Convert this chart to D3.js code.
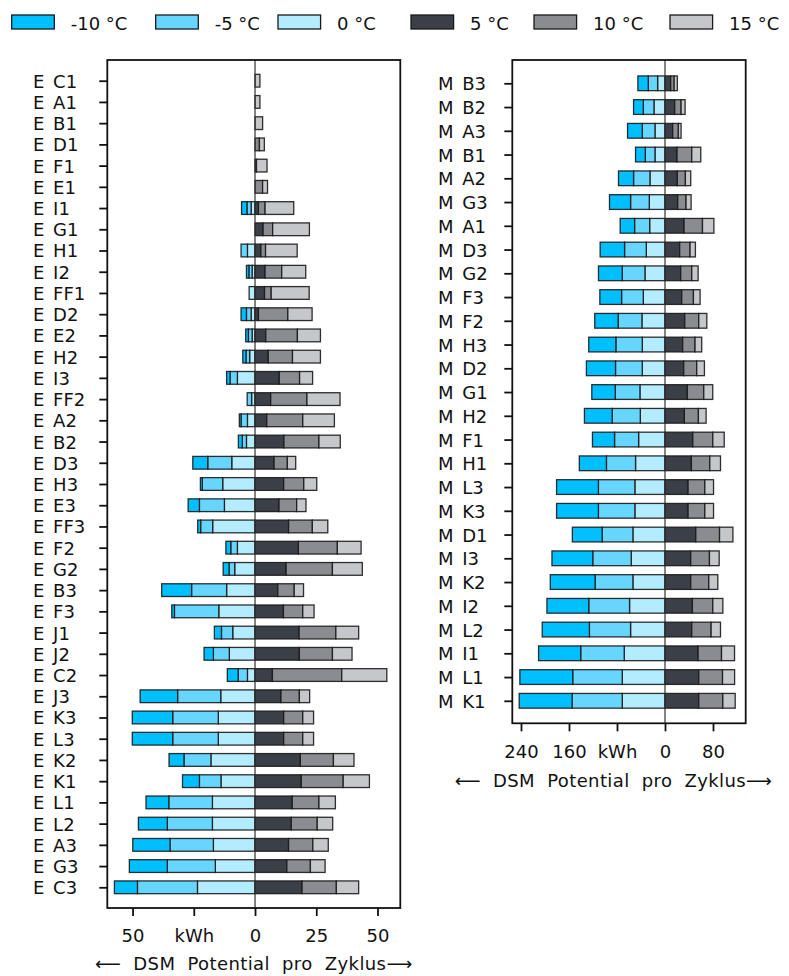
<!DOCTYPE html>
<html>
<head>
<meta charset="utf-8">
<script src="https://cdn.jsdelivr.net/npm/d3@7"></script>
<style>
  html, body { margin: 0; padding: 0; background: #fff; }
  svg text { font-family: "DejaVu Sans", sans-serif; fill: #111; }
</style>
</head>
<body>
<svg id="chart" width="789" height="976"></svg>
<script>
// Temperature series (legend order)
const seriesNames = ["-10 °C", "-5 °C", "0 °C", "5 °C", "10 °C", "15 °C"];

// Panel E: DSM potential per cycle in kWh (negative side = -10/-5/0 °C)
const eCategories = ["E C1","E A1","E B1","E D1","E F1","E E1","E I1","E G1","E H1","E I2",
  "E FF1","E D2","E E2","E H2","E I3","E FF2","E A2","E B2","E D3","E H3","E E3","E FF3",
  "E F2","E G2","E B3","E F3","E J1","E J2","E C2","E J3","E K3","E L3","E K2","E K1",
  "E L1","E L2","E A3","E G3","E C3"];
const eMinus10 = [0,0,0,0,0,0,-2.2,0,0,-1.0,0,-2.2,-1.1,-1.3,-1.4,0,-0.7,-1.6,-6.1,-0.8,-4.6,-1.2,
  -2.0,-2.4,-12.2,-1.1,-2.9,-3.8,-4.4,-15.3,-16.5,-16.5,-6.1,-6.9,-9.3,-11.8,-15.2,-15.5,-9.4];
const eMinus5 = [0,0,0,0,0,0,-1.7,0,-2.6,-1.3,0,-1.9,-1.5,-1.5,-3.0,-1.8,-2.6,-1.7,-9.8,-8.3,-10.2,-4.9,
  -2.7,-2.3,-14.3,-18.1,-4.6,-6.5,-3.8,-17.6,-18.6,-18.6,-11.0,-8.8,-17.8,-18.4,-17.7,-19.6,-24.5];
const eZero = [0,0,0,0,0,0,-1.6,0,-3.1,-1.2,-2.4,-1.6,-1.2,-2.2,-7.2,-1.4,-3.1,-3.5,-9.5,-13.2,-12.5,-17.3,
  -7.2,-8.3,-11.6,-14.8,-9.1,-10.5,-3.1,-14.0,-15.0,-15.0,-18.0,-13.9,-17.4,-17.4,-17.0,-16.2,-23.5];
const ePlus5 = [0,0,0,0,0.6,0,1.4,3.3,2.4,4.1,3.9,1.4,4.4,5.4,9.9,6.4,4.8,11.8,7.8,11.7,9.8,13.7,
  17.7,12.7,9.3,11.6,18.0,18.1,7.1,10.6,11.7,11.7,18.5,18.9,15.2,14.8,13.7,13.0,19.2];
const ePlus10 = [0,0,0,1.8,0,3.1,2.7,3.9,1.9,6.8,2.7,12.0,12.9,9.9,8.3,14.8,14.7,14.3,5.4,8.2,7.2,9.7,
  15.9,18.9,6.7,7.9,15.0,13.5,28.3,7.5,7.8,7.8,13.5,17.1,10.9,10.6,9.9,9.6,14.0];
const ePlus15 = [2.0,2.0,3.1,2.0,4.3,2.0,11.7,15.0,12.9,9.8,15.5,9.9,9.4,11.4,5.3,13.5,12.9,8.7,3.4,5.3,3.8,6.3,
  9.7,12.2,3.8,4.6,9.3,8.0,18.4,4.2,4.4,4.4,8.4,10.7,6.7,6.3,6.3,6.0,9.1];
const eTickValues = [-50, -25, 0, 25, 50];
const eTickLabels = ["50", "kWh", "0", "25", "50"];

// Panel M
const mCategories = ["M B3","M B2","M A3","M B1","M A2","M G3","M A1","M D3","M G2","M F3",
  "M F2","M H3","M D2","M G1","M H2","M F1","M H1","M L3","M K3","M D1","M I3","M K2",
  "M I2","M L2","M I1","M L1","M K1"];
const mMinus10 = [-17.3,-16.2,-24.5,-16.2,-25.1,-35.1,-24.0,-40.7,-39.6,-36.2,-39.0,-45.2,-48.5,-39.0,
  -46.3,-36.8,-45.2,-69.7,-69.7,-49.6,-68.0,-74.7,-69.7,-78.6,-70.2,-88.1,-88.1];
const mMinus5 = [-15.6,-17.8,-21.2,-16.2,-27.3,-31.2,-25.1,-36.2,-37.9,-36.2,-39.6,-44.0,-44.6,-41.2,
  -46.8,-40.1,-48.5,-60.8,-60.8,-51.3,-64.1,-63.0,-68.0,-68.6,-72.5,-82.5,-83.6];
const mZero = [-12.3,-18.4,-16.7,-16.7,-25.1,-26.2,-25.6,-31.2,-33.4,-36.2,-38.5,-37.9,-37.9,-41.8,
  -41.2,-44.0,-49.1,-50.2,-50.2,-53.5,-56.3,-53.5,-59.1,-57.4,-68.0,-71.3,-71.3];
const mPlus5 = [9.5,16.2,12.8,20.1,20.6,21.2,31.8,24.5,26.2,27.9,32.9,29.5,31.2,37.3,
  32.3,46.3,44.0,38.5,38.5,51.3,42.9,42.9,45.7,44.6,55.2,56.3,56.3];
const mPlus10 = [5.8,10.6,9.5,24.5,13.4,13.9,30.7,17.3,18.4,19.5,23.4,20.6,21.7,27.3,
  23.4,33.4,30.7,27.9,27.9,39.6,31.2,30.1,34.0,32.3,39.0,39.6,40.1];
const mPlus15 = [5.3,6.7,4.5,15.0,8.9,8.4,19.0,8.9,10.6,11.1,13.4,11.1,12.8,15.0,
  12.8,19.0,17.8,14.5,14.5,22.3,16.2,15.0,16.7,15.6,21.7,20.1,20.6];
const mTickValues = [-240, -160, -80, 0, 80];
const mTickLabels = ["240", "160", "kWh", "0", "80"];

// Styling
const palette = {
  "-10 °C": "#00bfff",
  "-5 °C": "#66d6ff",
  "0 °C": "#b3ebff",
  "5 °C": "#3b3f47",
  "10 °C": "#8a8c91",
  "15 °C": "#c6c7cb"
};
const FONT = 18;
const svg = d3.select("#chart");

// Stacking order: segments grow outward from zero (0 °C / 5 °C are innermost)
const stackKeys = ["0 °C", "-5 °C", "-10 °C", "5 °C", "10 °C", "15 °C"];

function buildRows(categories, cols) {
  return categories.map((c, i) => {
    const row = { category: c };
    seriesNames.forEach((s, k) => { row[s] = cols[k][i]; });
    return row;
  });
}

function drawPanel(opt) {
  const { rows, categories, frame, domain, tickValues, tickLabels, labelX, barFrac, titleShift, titleGap, tickGap } = opt;
  const g = svg.append("g");

  const x = d3.scaleLinear().domain(domain).range([frame.x0, frame.x1]);
  const y = d3.scalePoint().domain(categories).range([frame.y0 + opt.padTop, frame.y1 - opt.padBottom]);
  const barH = y.step() * barFrac;

  const stacked = d3.stack().keys(stackKeys).offset(d3.stackOffsetDiverging)(rows);

  g.selectAll("g.series")
    .data(stacked)
    .join("g")
    .attr("class", "series")
    .attr("fill", d => palette[d.key])
    .selectAll("rect")
    .data(d => d.filter(s => s[1] !== s[0]))
    .join("rect")
    .attr("x", d => x(Math.min(d[0], d[1])))
    .attr("width", d => Math.abs(x(d[1]) - x(d[0])))
    .attr("y", d => y(d.data.category) - barH / 2)
    .attr("height", barH)
    .attr("stroke", "#1a1a1a")
    .attr("stroke-opacity", 0.9)
    .attr("stroke-width", 1.3);

  // zero line
  g.append("line")
    .attr("x1", x(0)).attr("x2", x(0))
    .attr("y1", frame.y0).attr("y2", frame.y1)
    .attr("stroke", "#333").attr("stroke-width", 1.2);

  // frame
  g.append("rect")
    .attr("x", frame.x0).attr("y", frame.y0)
    .attr("width", frame.x1 - frame.x0).attr("height", frame.y1 - frame.y0)
    .attr("fill", "none").attr("stroke", "#111").attr("stroke-width", 1.8);

  // category axis
  const yAxis = g.append("g")
    .attr("transform", `translate(${frame.x0},0)`)
    .call(d3.axisLeft(y).tickSize(8).tickSizeOuter(0));
  yAxis.select(".domain").remove();
  yAxis.selectAll(".tick line").attr("stroke", "#111").attr("stroke-width", 1.8);
  yAxis.selectAll(".tick text")
    .attr("text-anchor", "start")
    .attr("x", labelX - frame.x0)
    .attr("dy", "0.36em")
    .attr("font-size", FONT)
    .attr("fill", "#111")
    .style("word-spacing", "3px")
    .style("font-family", "'DejaVu Sans', sans-serif");

  // value axis
  const xAxis = g.append("g")
    .attr("transform", `translate(0,${frame.y1})`)
    .call(d3.axisBottom(x).tickValues(tickValues).tickFormat((d, i) => tickLabels[i])
      .tickSize(8).tickPadding(tickGap).tickSizeOuter(0));
  xAxis.select(".domain").remove();
  xAxis.selectAll(".tick line").attr("stroke", "#111").attr("stroke-width", 1.8);
  xAxis.selectAll(".tick text")
    .attr("font-size", FONT)
    .attr("fill", "#111")
    .style("font-family", "'DejaVu Sans', sans-serif");

  // axis title with arrows
  const cx = (frame.x0 + frame.x1) / 2 + titleShift;
  const t = g.append("text")
    .attr("x", cx).attr("y", frame.y1 + titleGap)
    .attr("text-anchor", "middle")
    .attr("font-size", FONT)
    .style("word-spacing", "6px")
    .style("letter-spacing", "0.4px");
  t.append("tspan").text("⟵");
  t.append("tspan").text(" DSM Potential pro Zyklus");
  t.append("tspan").text("⟶");
}

drawPanel({
  rows: buildRows(eCategories, [eMinus10, eMinus5, eZero, ePlus5, ePlus10, ePlus15]),
  categories: eCategories,
  frame: { x0: 107.3, x1: 400.3, y0: 60, y1: 908 },
  padTop: 20.7, padBottom: 20.7,
  domain: [-60.3, 59.3],
  tickValues: eTickValues, tickLabels: eTickLabels,
  labelX: 33, barFrac: 0.6, titleShift: 0, titleGap: 62, tickGap: 13
});

drawPanel({
  rows: buildRows(mCategories, [mMinus10, mMinus5, mZero, mPlus5, mPlus10, mPlus15]),
  categories: mCategories,
  frame: { x0: 512.3, x1: 745.7, y0: 60, y1: 723.3 },
  padTop: 23.3, padBottom: 22.5,
  domain: [-254.5, 134.5],
  tickValues: mTickValues, tickLabels: mTickLabels,
  labelX: 438, barFrac: 0.62, titleShift: -15.5, titleGap: 63.4, tickGap: 14
});

// legend across the top
const legendX = [11.7, 155.7, 278, 411, 534, 670];
const legend = svg.append("g");
seriesNames.forEach((name, i) => {
  const lx = legendX[i];
  legend.append("rect")
    .attr("x", lx).attr("y", 15)
    .attr("width", 42.6).attr("height", 14)
    .attr("fill", palette[name])
    .attr("stroke", "#1a1a1a").attr("stroke-width", 1.3);
  legend.append("text")
    .attr("x", lx + 59).attr("y", 29.5)
    .attr("font-size", FONT)
    .text(name);
});
</script>
</body>
</html>
